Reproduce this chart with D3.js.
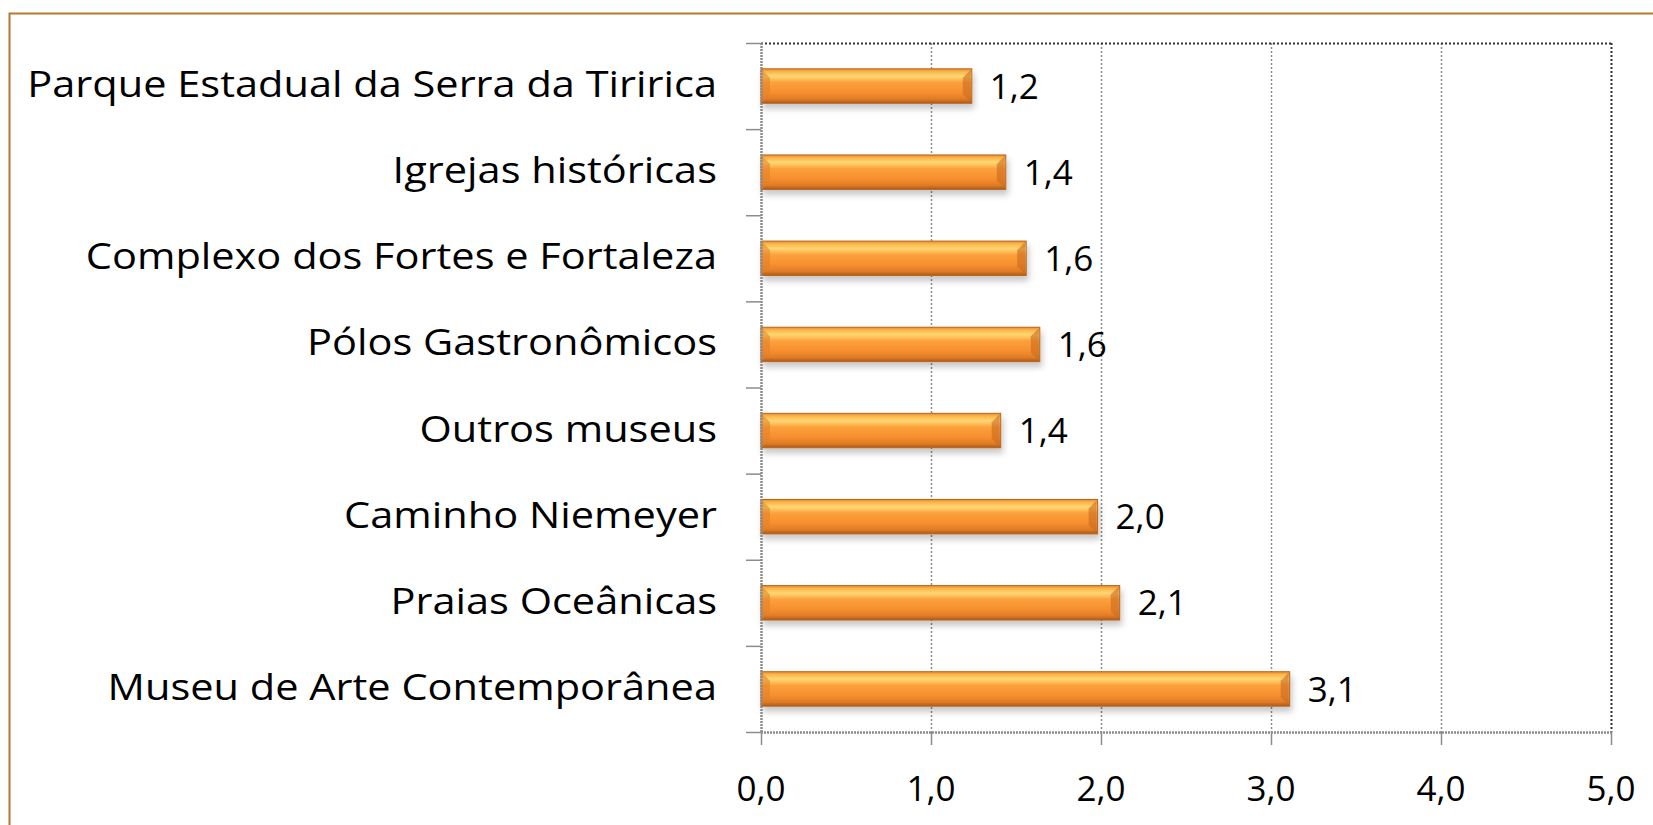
<!DOCTYPE html>
<html>
<head>
<meta charset="utf-8">
<script src="https://cdn.jsdelivr.net/npm/d3@7"></script>
<style>
  body { margin: 0; background: white; }
  svg { display: block; }
  text { font-family: "Open Sans", Lato, sans-serif; fill: #000; }
</style>
</head>
<body>
<div id="chart"></div>
<script>
// categories top to bottom
const CATEGORIES = [
  "Parque Estadual da Serra da Tiririca",
  "Igrejas históricas",
  "Complexo dos Fortes e Fortaleza",
  "Pólos Gastronômicos",
  "Outros museus",
  "Caminho Niemeyer",
  "Praias Oceânicas",
  "Museu de Arte Contemporânea"
];
const VALUES = [1.24, 1.44, 1.56, 1.64, 1.41, 1.98, 2.11, 3.11];
const LABELS = ["1,2", "1,4", "1,6", "1,6", "1,4", "2,0", "2,1", "3,1"];
const X_TICKS = [0, 1, 2, 3, 4, 5];
const X_TICK_LABELS = ["0,0", "1,0", "2,0", "3,0", "4,0", "5,0"];

var width = 1653, height = 825;
var margin = {left: 761, right: 42, top: 43, bottom: 93};

var svg = d3.select("#chart")
  .append("svg")
  .attr("width", width)
  .attr("height", height);

// outer frame (right / bottom edges fall outside the picture)
svg.append("rect")
  .attr("x", 9.5)
  .attr("y", 13.5)
  .attr("width", width)
  .attr("height", height)
  .attr("fill", "none")
  .attr("stroke", "#b8782c")
  .attr("stroke-width", 2);

var defs = svg.append("defs");

var grad = defs.append("linearGradient")
  .attr("id", "barGrad")
  .attr("x1", 0).attr("y1", 0).attr("x2", 0).attr("y2", 1);
grad.append("stop").attr("offset", "0%").attr("stop-color", "#e98b2c");
grad.append("stop").attr("offset", "8%").attr("stop-color", "#fbb54a");
grad.append("stop").attr("offset", "22%").attr("stop-color", "#ffd873");
grad.append("stop").attr("offset", "40%").attr("stop-color", "#fca03c");
grad.append("stop").attr("offset", "70%").attr("stop-color", "#f68e2e");
grad.append("stop").attr("offset", "88%").attr("stop-color", "#e07b26");
grad.append("stop").attr("offset", "100%").attr("stop-color", "#a85a1c");

var shadow = defs.append("filter")
  .attr("id", "shadow")
  .attr("x", "-5%").attr("y", "-20%").attr("width", "110%").attr("height", "180%");
shadow.append("feDropShadow")
  .attr("dx", 2).attr("dy", 5)
  .attr("stdDeviation", 3)
  .attr("flood-color", "#000")
  .attr("flood-opacity", 0.22);

var x = d3.scaleLinear()
  .domain([0, 5])
  .range([margin.left, width - margin.right]);

var y = d3.scaleBand()
  .domain(CATEGORIES)
  .range([margin.top, height - margin.bottom])
  .paddingInner(0.6)
  .paddingOuter(0.3);

var plotTop = margin.top, plotBottom = height - margin.bottom;

// vertical gridlines
svg.append("g").selectAll("line")
  .data(X_TICKS.slice(1))
  .enter()
  .append("line")
  .attr("x1", function(d) { return x(d) + 0.5; })
  .attr("x2", function(d) { return x(d) + 0.5; })
  .attr("y1", plotTop)
  .attr("y2", plotBottom)
  .attr("stroke", function(d) { return d == 5 ? "#333" : "#8c8c8c"; })
  .attr("stroke-width", function(d) { return d == 5 ? 2 : 1.5; })
  .attr("stroke-dasharray", "2,2");

// top border of plot
svg.append("line")
  .attr("x1", x(0)).attr("x2", x(5) + 1)
  .attr("y1", plotTop + 0.5).attr("y2", plotTop + 0.5)
  .attr("stroke", "#333")
  .attr("stroke-width", 2)
  .attr("stroke-dasharray", "2,2");

// bars
var bars = svg.append("g").selectAll("g")
  .data(CATEGORIES)
  .enter()
  .append("g");

bars.append("rect")
  .attr("x", x(0))
  .attr("y", function(d) { return y(d); })
  .attr("width", function(d, i) { return x(VALUES[i]) - x(0); })
  .attr("height", y.bandwidth())
  .attr("fill", "url(#barGrad)")
  .attr("stroke", "#b8651e")
  .attr("stroke-width", 1)
  .attr("filter", "url(#shadow)");

// bevel at the ends of each bar
var bev = 8;
bars.append("path")
  .attr("d", function(d) {
    var x0 = x(0) + 1, y0 = y(d) + 1, h = y.bandwidth() - 2;
    return "M" + x0 + "," + y0 + "L" + (x0 + bev) + "," + (y0 + bev) +
      "L" + (x0 + bev) + "," + (y0 + h - bev) + "L" + x0 + "," + (y0 + h) + "Z";
  })
  .attr("fill", "#e07f2a")
  .attr("opacity", 0.55);

bars.append("path")
  .attr("d", function(d, i) {
    var x1 = x(VALUES[i]) - 1, y0 = y(d) + 1, h = y.bandwidth() - 2;
    return "M" + x1 + "," + y0 + "L" + (x1 - bev) + "," + (y0 + bev) +
      "L" + (x1 - bev) + "," + (y0 + h - bev) + "L" + x1 + "," + (y0 + h) + "Z";
  })
  .attr("fill", "#c96a20")
  .attr("opacity", 0.6);

// value labels
bars.append("text")
  .text(function(d, i) { return LABELS[i]; })
  .attr("x", function(d, i) { return x(VALUES[i]) + 18; })
  .attr("y", function(d) { return y(d) + y.bandwidth() / 2; })
  .attr("dy", "0.36em")
  .style("font-size", "35px");

// y axis
var yAxis = svg.append("g")
  .attr("transform", "translate(" + x(0) + ",0)");

var boundaries = d3.range(CATEGORIES.length + 1).map(function(i) {
  return plotTop + i * (plotBottom - plotTop) / CATEGORIES.length;
});

yAxis.selectAll(".ytick")
  .data(boundaries)
  .enter()
  .append("line")
  .attr("x1", -15).attr("x2", 0)
  .attr("y1", function(d) { return d + 0.5; })
  .attr("y2", function(d) { return d + 0.5; })
  .attr("stroke", "#8c8c8c")
  .attr("stroke-width", 1.5);

yAxis.append("line")
  .attr("x1", 0.5).attr("x2", 0.5)
  .attr("y1", plotTop).attr("y2", plotBottom)
  .attr("stroke", "#8c8c8c")
  .attr("stroke-width", 2.5)
  .attr("stroke-dasharray", "2,1");

var catLabels = yAxis.selectAll(".ylabel")
  .data(CATEGORIES)
  .enter()
  .append("text")
  .text(function(d) { return d; })
  .attr("x", 0)
  .attr("y", 0)
  .style("text-anchor", "end")
  .style("font-size", "37px");

// the labels in the original are a bit wider than the font: stretch to fit
var longest = d3.max(catLabels.nodes(), function(n) { return n.getComputedTextLength(); });
var stretch = 690 / longest;
catLabels.attr("transform", function(d) {
  return "translate(-44," + (y(d) + y.bandwidth() / 2 + 11) + ") scale(" + stretch + ",1)";
});

// x axis
var xAxis = svg.append("g")
  .attr("transform", "translate(0," + plotBottom + ")");

xAxis.append("line")
  .attr("x1", x(0)).attr("x2", x(5) + 1)
  .attr("y1", 0.5).attr("y2", 0.5)
  .attr("stroke", "#8c8c8c")
  .attr("stroke-width", 2.5)
  .attr("stroke-dasharray", "2,1");

xAxis.selectAll(".xtick")
  .data(X_TICKS)
  .enter()
  .append("line")
  .attr("x1", function(d) { return x(d) + 0.5; })
  .attr("x2", function(d) { return x(d) + 0.5; })
  .attr("y1", 0).attr("y2", 13)
  .attr("stroke", "#8c8c8c")
  .attr("stroke-width", 1.5);

xAxis.selectAll(".xlabel")
  .data(X_TICKS)
  .enter()
  .append("text")
  .text(function(d, i) { return X_TICK_LABELS[i]; })
  .attr("x", function(d) { return x(d); })
  .attr("y", 69)
  .style("text-anchor", "middle")
  .style("font-size", "35px");
</script>
</body>
</html>
